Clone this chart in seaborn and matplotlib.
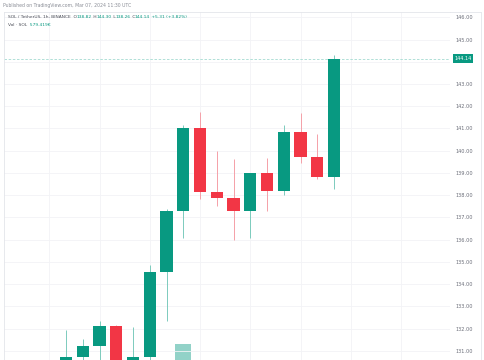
import matplotlib
matplotlib.use("Agg")
import matplotlib.pyplot as plt
from matplotlib.lines import Line2D
import seaborn as sns
import numpy as np
import pandas as pd

# hourly SOL/USDT candles visible in the crop (oldest -> newest)
opens = [130.40, 130.72, 131.23, 132.11, 130.50, 130.72, 134.54, 137.30, 141.01,
         138.15, 137.87, 137.27, 138.98, 138.19, 140.83, 139.70, 138.82]
highs = [131.93, 131.53, 132.34, 132.15, 132.07, 134.85, 137.38, 141.16, 141.73,
         139.99, 139.64, 139.00, 139.67, 141.16, 141.68, 140.75, 144.30]
lows = [130.25, 130.35, 130.40, 130.10, 130.30, 130.50, 132.34, 136.07, 137.81,
        137.51, 135.98, 136.07, 137.27, 138.02, 139.46, 138.74, 138.26]
closes = [130.72, 131.23, 132.11, 130.30, 130.72, 134.54, 137.30, 141.01, 138.15,
          137.87, 137.27, 138.98, 138.19, 140.83, 139.70, 138.82, 144.14]
volumes = [420e3, 380e3, 510e3, 560e3, 450e3, 1.10e6, 1.00e6, 1.51e6, 820e3,
           610e3, 700e3, 640e3, 520e3, 760e3, 690e3, 540e3, 579.419e3]

price_ticks = [131, 132, 133, 134, 135, 136, 137, 138, 139, 140, 141, 142, 143, 144, 145, 146]
last_price = 144.14

UP = "#089981"
DOWN = "#f23645"
UP_WICK = "#7ccbbd"
DOWN_WICK = "#f5a0a8"
GRID = "#f2f3f6"
BORDER = "#e3e5ea"
TXT = "#6a6d78"
HDR = "#4a4d57"

df = pd.DataFrame({"open": opens, "high": highs, "low": lows, "close": closes, "vol": volumes})
df["x"] = np.arange(len(df))
df["up"] = df["close"] >= df["open"]

sns.set_theme(style="white")
plt.rcParams["font.family"] = ["DejaVu Sans"]

W, H = 485, 360
fig = plt.figure(figsize=(W / 100, H / 100), dpi=100)
fig.patch.set_facecolor("white")


def fx(px):
    return px / W


def fy(py):
    return 1 - py / H


# main price pane: x 4..450 px, y 12..360 px
ax = fig.add_axes([fx(4), fy(360), fx(450) - fx(4), fy(12) - fy(360)])
# volume pane overlays the bottom, baseline below the visible crop
axv = fig.add_axes([fx(4), -0.25, fx(450) - fx(4), 0.35], zorder=0)
ax.set_zorder(1)
ax.patch.set_alpha(0)

px_per_unit = 22.23
ax.set_ylim(146 - (360 - 17.3) / px_per_unit, 146 + (17.3 - 12) / px_per_unit)
xlim = ((4 - 66) / 16.75, (450 - 66) / 16.75)
ax.set_xlim(*xlim)
axv.set_xlim(*xlim)
axv.set_ylim(0, 1.8e6)

# grid
for p in price_ticks:
    ax.axhline(p, color=GRID, lw=0.6, zorder=0)
for gx in range(-1, 23, 3):
    ax.axvline(gx, color=GRID, lw=0.6, zorder=0)

# volume
vcols = np.where(df["up"], "#92d2c8", "#f8a9b0")
axv.bar(df["x"], df["vol"], width=0.95, color=vcols, linewidth=0)
axv.axis("off")

# candles
wick_cols = np.where(df["up"], UP_WICK, DOWN_WICK)
body_cols = np.where(df["up"], UP, DOWN)
ax.vlines(df["x"], df["low"], df["high"], colors=wick_cols, lw=0.7, zorder=2)
ax.bar(df["x"], df["close"] - df["open"], bottom=df["open"], width=0.74,
       color=body_cols, linewidth=0, zorder=3)

# last price line
ax.axhline(last_price, color="#a3dbd1", lw=0.6, ls=(0, (3, 2)), zorder=1)
ax.annotate(f"{last_price:.2f}", xy=(1.0, last_price), xycoords=("axes fraction", "data"),
            xytext=(3.2, 0), textcoords="offset points", ha="left", va="center",
            fontsize=3.6, color="white",
            bbox=dict(boxstyle="square,pad=0.35", fc=UP, ec="none"), zorder=5)

ax.yaxis.tick_right()
ax.set_yticks([p for p in price_ticks if p != 144])
ax.set_yticklabels([f"{p:.2f}" for p in price_ticks if p != 144])
ax.tick_params(axis="y", length=0, pad=4, labelsize=3.6, labelcolor=TXT)
ax.set_xticks([])
for s in ["right", "bottom"]:
    ax.spines[s].set_visible(False)
for s in ["left", "top"]:
    ax.spines[s].set_color(BORDER)
    ax.spines[s].set_linewidth(0.6)

# right border of the price scale
fig.add_artist(Line2D([fx(481), fx(481)], [fy(12), 0], color=BORDER, lw=0.6))
fig.add_artist(Line2D([fx(450), fx(481)], [fy(12), fy(12)], color=BORDER, lw=0.6))

# header texts
fig.text(fx(3), fy(6), "Published on TradingView.com, Mar 07, 2024 11:30 UTC",
         fontsize=3.35, color="#8a8d96", va="center", ha="left")

row2 = [("SOL / TetherUS, 1h, BINANCE  O", HDR), ("138.82", UP), (" H", HDR),
        ("144.30", UP), (" L", HDR), ("138.26", UP), (" C", HDR),
        ("144.14", UP), (" +5.31 (+3.82%)", UP)]
row3 = [("Vol \u00b7 SOL", HDR), ("  579.419K", UP)]

HFS = 3.2
renderer = fig.canvas.get_renderer()


def text_width(s):
    t = fig.text(0, 0, s, fontsize=HFS)
    w = t.get_window_extent(renderer=renderer).width
    t.remove()
    return w


for row, ypx in [(row2, 17.5), (row3, 25.5)]:
    prefix = ""
    for s, c in row:
        # each piece starts where the whole preceding string ends
        x = 8 + (text_width(prefix) if prefix else 0)
        fig.text(fx(x), fy(ypx), s, fontsize=HFS, color=c, va="center", ha="left")
        prefix += s

fig.savefig("out.png", dpi=100, facecolor="white")
